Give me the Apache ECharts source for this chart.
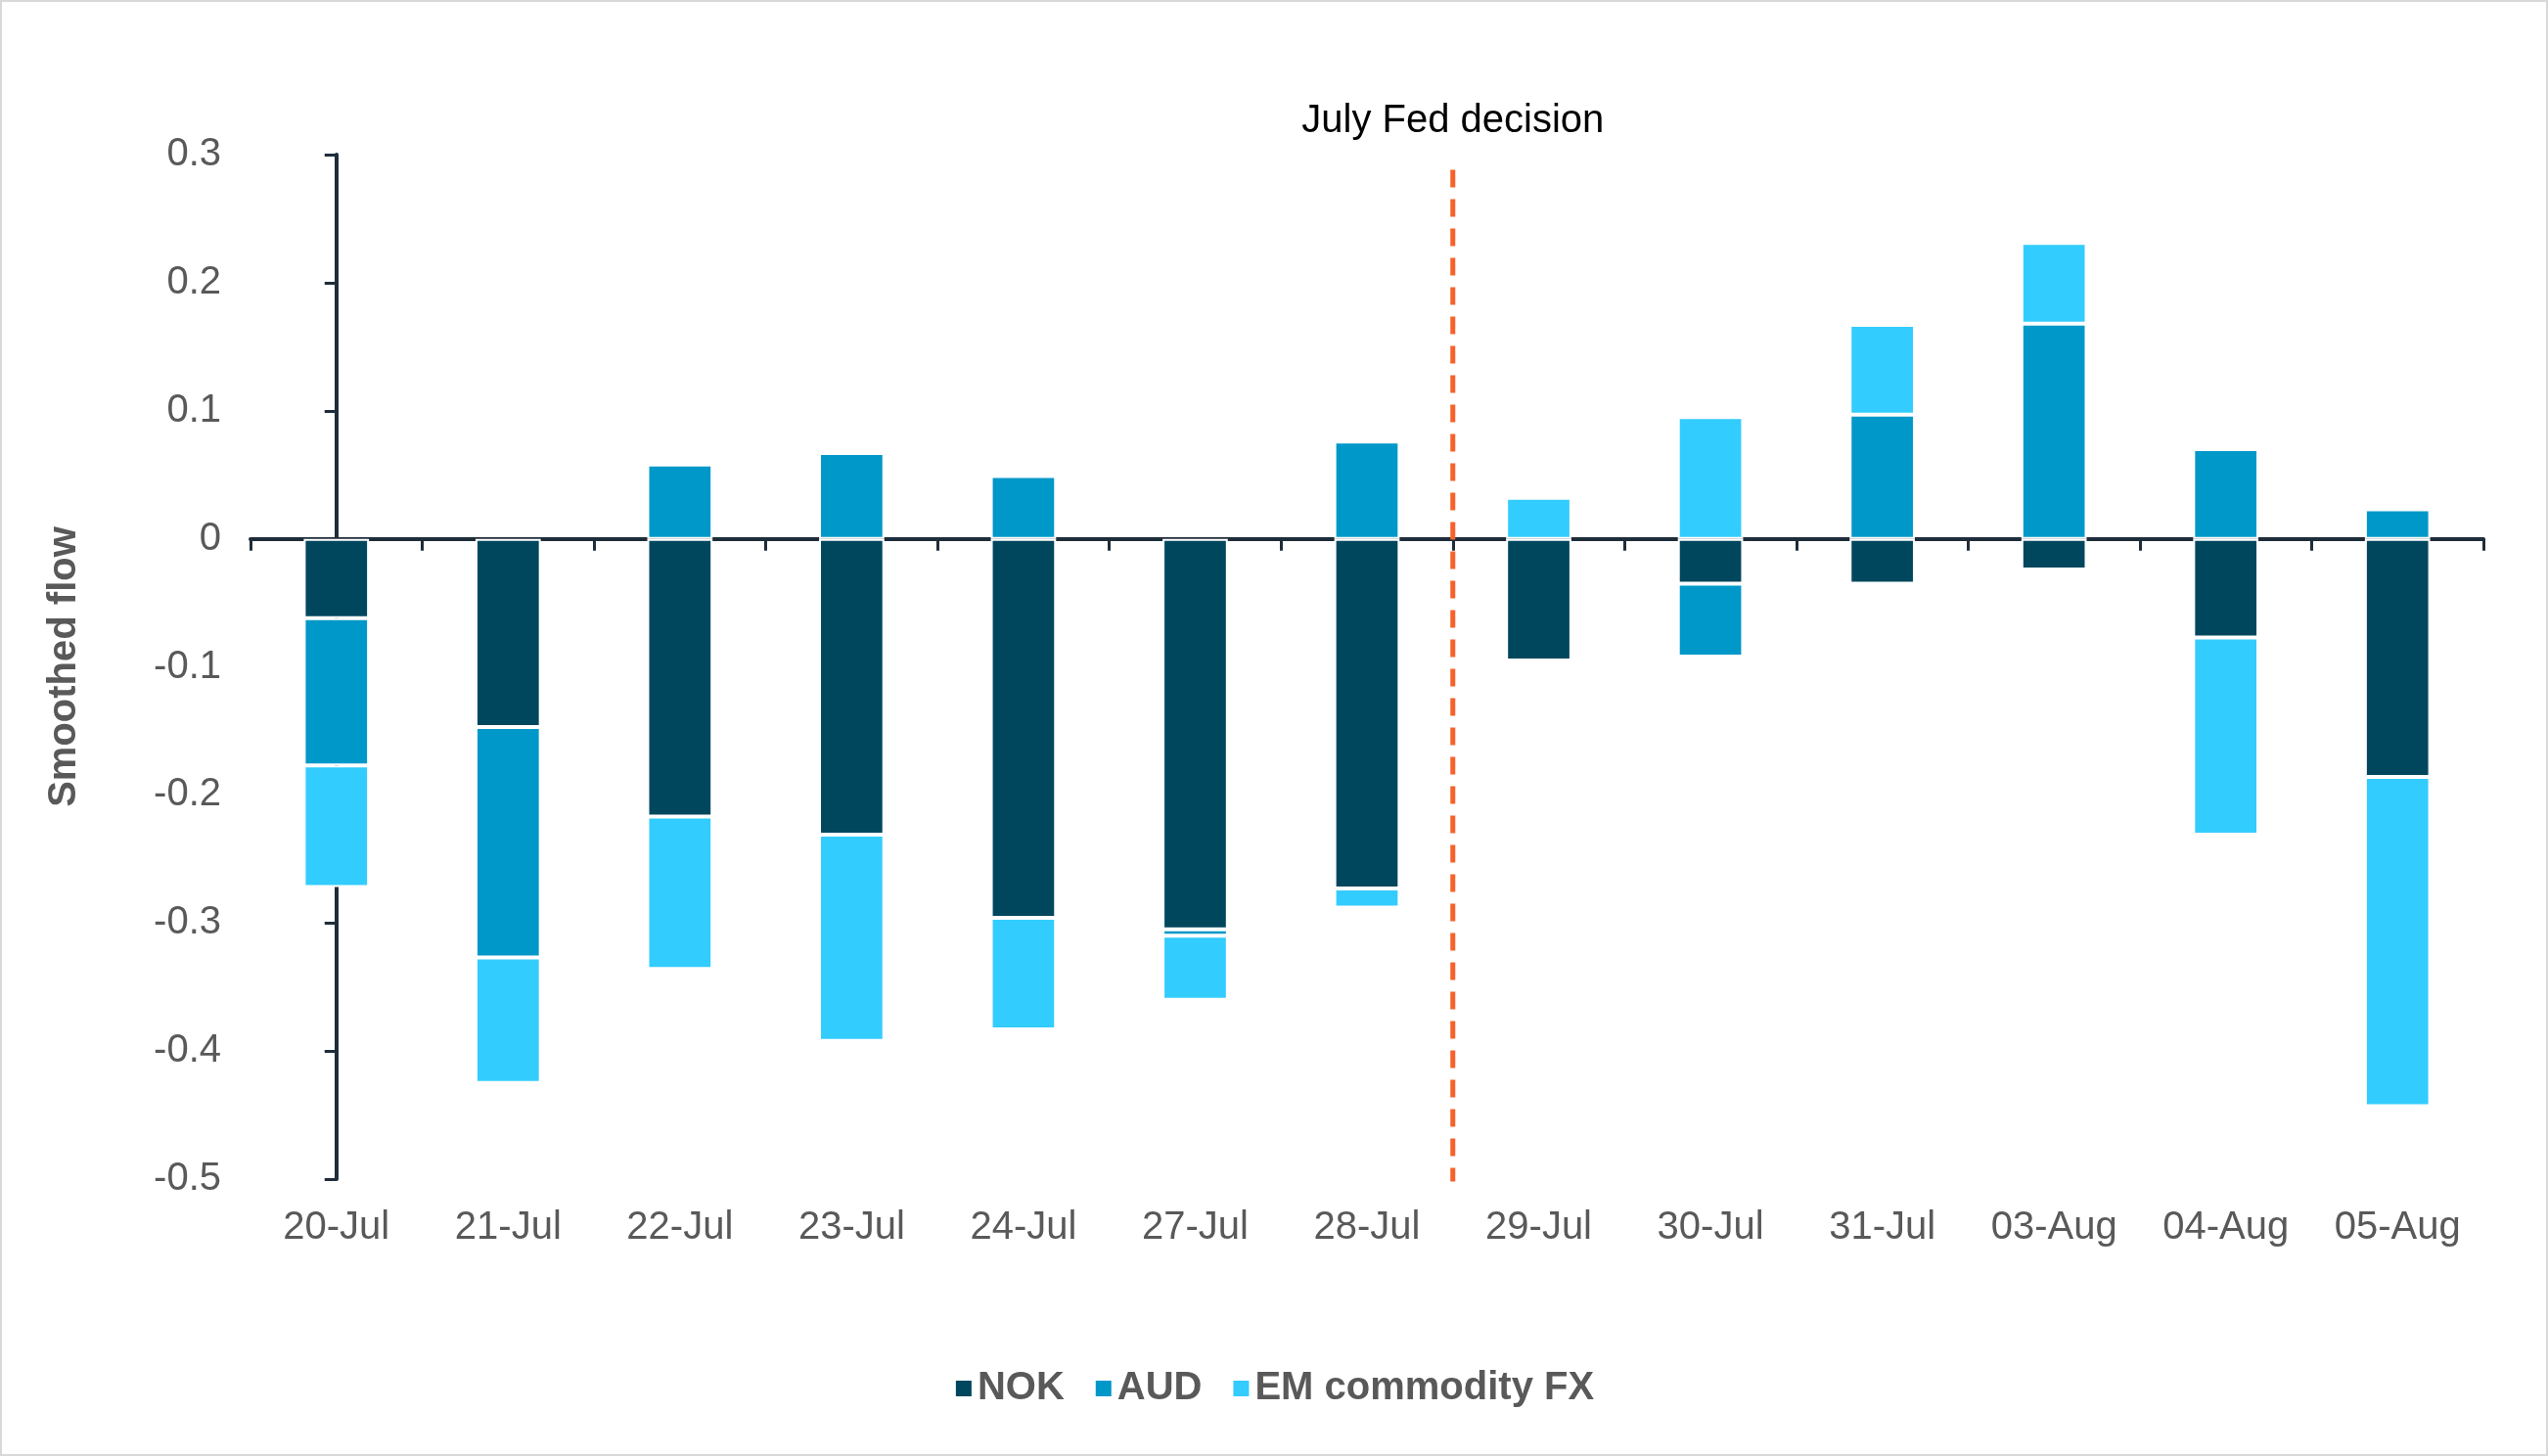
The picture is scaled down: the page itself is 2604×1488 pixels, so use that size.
<!DOCTYPE html>
<html>
<head>
<meta charset="utf-8">
<script src="https://cdn.jsdelivr.net/npm/echarts@6/dist/echarts.min.js"></script>
<style>
html,body{margin:0;padding:0;background:#fff;}
#chart{width:2604px;height:1488px;box-sizing:border-box;border:2px solid #d9d9d9;}
</style>
</head>
<body>
<div id="chart"></div>
<script>
// data
var categories = ['20-Jul','21-Jul','22-Jul','23-Jul','24-Jul','27-Jul','28-Jul','29-Jul','30-Jul','31-Jul','03-Aug','04-Aug','05-Aug'];
var nok = [-0.062,-0.147,-0.217,-0.231,-0.296,-0.305,-0.273,-0.095,-0.035,-0.035,-0.024,-0.077,-0.186];
var aud = [-0.115,-0.180,0.058,0.067,0.049,-0.005,0.076,0,-0.057,0.097,0.168,0.070,0.023];
var emfx = [-0.095,-0.098,-0.119,-0.161,-0.087,-0.050,-0.015,0.032,0.095,0.070,0.063,-0.154,-0.257];
var yTicks = {min:-0.5, max:0.3, interval:0.1};
var fedIndex = 6.5;
var fedLabel = 'July Fed decision';

var font = 'Arial, "Liberation Sans", sans-serif';
var chart = echarts.init(document.getElementById('chart'));

function barSeries(name, data, color) {
    return {
        name: name,
        type: 'bar',
        stack: 'flow',
        barWidth: '38%',
        data: data,
        itemStyle: {color: color, borderColor: '#fff', borderWidth: 2}
    };
}

chart.setOption({
    animation: false,
    grid: {left: 254, right: 64, top: 156, bottom: 281},
    legend: {
        bottom: 42,
        left: 'center',
        icon: 'rect',
        itemWidth: 18,
        itemHeight: 18,
        itemGap: 30,
        data: ['NOK','AUD','EM commodity FX'],
        textStyle: {fontFamily: font, fontSize: 40, fontWeight: 'bold', color: '#595959'}
    },
    xAxis: [{
        // labels along the bottom
        type: 'category',
        data: categories,
        axisLine: {show: false, onZero: false},
        axisTick: {show: false},
        axisLabel: {fontFamily: font, fontSize: 40, color: '#595959', margin: 30}
    }, {
        // zero line with ticks
        type: 'category',
        data: categories,
        position: 'bottom',
        axisLine: {onZero: true, lineStyle: {color: '#1f2d3a', width: 4}},
        axisTick: {show: true, length: 12, lineStyle: {color: '#1f2d3a', width: 3}},
        axisLabel: {show: false}
    }, {
        // hidden value axis for the Fed marker
        type: 'value',
        min: -0.5,
        max: categories.length - 0.5,
        show: false
    }],
    yAxis: {
        type: 'value',
        min: yTicks.min,
        max: yTicks.max,
        interval: yTicks.interval,
        name: 'Smoothed flow',
        nameLocation: 'middle',
        nameGap: 170,
        nameTextStyle: {fontFamily: font, fontSize: 40, fontWeight: 'bold', color: '#595959'},
        axisLine: {show: true, lineStyle: {color: '#1f2d3a', width: 4}},
        axisTick: {show: true, length: 12, lineStyle: {color: '#1f2d3a', width: 3}},
        axisLabel: {fontFamily: font, fontSize: 40, color: '#595959', margin: 30,
            formatter: function (v) { return Math.abs(v) < 1e-9 ? '0' : String(Math.round(v * 10) / 10); }},
        splitLine: {show: false}
    },
    series: [
        barSeries('NOK', nok, '#00475e'),
        barSeries('AUD', aud, '#0098c8'),
        barSeries('EM commodity FX', emfx, '#33ccfe'),
        {
            name: 'fed',
            type: 'line',
            xAxisIndex: 2,
            data: [[fedIndex, -0.505], [fedIndex, 0.29]],
            symbol: 'none',
            lineStyle: {color: '#f5622a', width: 5, type: [18, 12]},
            label: {show: false},
            markPoint: {
                symbol: 'circle', symbolSize: 0,
                data: [{coord: [fedIndex, 0.3], value: fedLabel}],
                label: {show: true, position: 'top', distance: 14, formatter: fedLabel,
                    fontFamily: font, fontSize: 40, color: '#000'}
            },
            z: 5
        }
    ]
});
</script>
</body>
</html>
